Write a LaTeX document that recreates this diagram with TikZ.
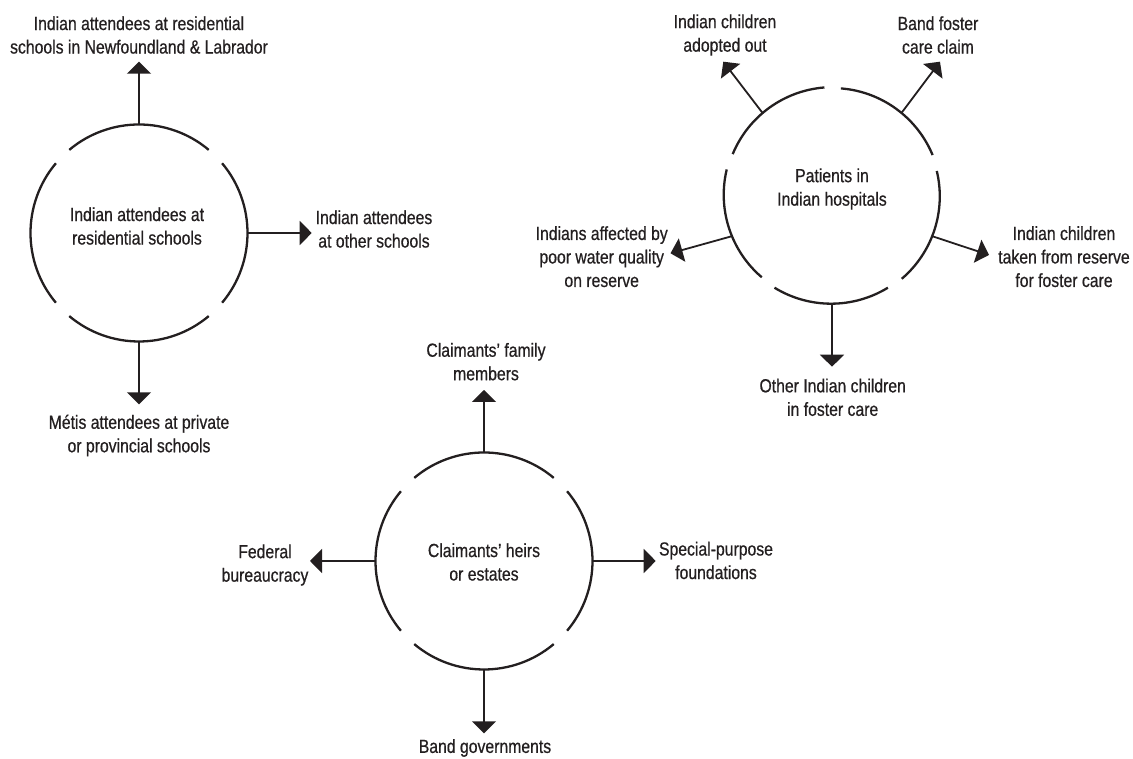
\documentclass[tikz,border=0pt]{standalone}
\usepackage{fontspec}
\setmainfont[FakeStretch=0.83,FakeBold=0.6]{Liberation Sans}
\usetikzlibrary{arrows.meta}
\definecolor{ink}{RGB}{35,31,32}
\begin{document}
\begin{tikzpicture}[x=1pt,y=1pt,
  every node/.style={text=ink,font=\fontsize{19}{23.5}\selectfont},
  hub/.style={circle,minimum size=217pt,inner sep=0pt,outer sep=0pt},
  lbl/.style={align=center,inner sep=0pt},
  ring/.style={draw=ink,line width=2.3pt},
  every edge/.style={draw=ink,line width=1.8pt,-{Triangle[width=24pt,length=12pt]}}]
\useasboundingbox (0,0) rectangle (1133,759);
\node[hub] (res) at (139,526) {};
\node[hub] (hosp) at (832,563.3) {};
\node[hub] (heirs) at (484,198) {};
\node[lbl] (resT) at (137,533) {Indian attendees at\\residential schools};
\node[lbl] (hospT) at (832,570) {Patients in\\Indian hospitals};
\node[lbl] (heirsT) at (484,197) {Claimants’ heirs\\or estates};
\node[lbl] (nfld) at (139,724) {Indian attendees at residential\\schools in Newfoundland \& Labrador};
\node[lbl] (other) at (374,530) {Indian attendees\\at other schools};
\node[lbl] (metis) at (139,323.5) {Métis attendees at private\\or provincial schools};
\node[lbl] (adopt) at (725,724) {Indian children\\adopted out};
\node[lbl] (bandfc) at (938,724) {Band foster\\care claim};
\node[lbl] (water) at (601.7,502.3) {Indians affected by\\poor water quality\\on reserve};
\node[lbl] (taken) at (1064,502.3) {Indian children\\taken from reserve\\for foster care};
\node[lbl] (otherfc) at (832.7,361.7) {Other Indian children\\in foster care};
\node[lbl] (family) at (486,397.3) {Claimants’ family\\members};
\node[lbl] (fed) at (265,194) {Federal\\bureaucracy};
\node[lbl] (spf) at (716,198.5) {Special-purpose\\foundations};
\node[lbl] (bandgov) at (485,11) {Band governments};
\coordinate (nfldTip) at (139,697.3);
\coordinate (otherTip) at (311.7,526);
\coordinate (metisTip) at (139,354.7);
\coordinate (adoptTip) at (723.3,697.3);
\coordinate (bandfcTip) at (940,697.3);
\coordinate (waterTip) at (670.5,505.7);
\coordinate (takenTip) at (989,504);
\coordinate (otherfcTip) at (832,392.3);
\coordinate (familyTip) at (484,369);
\coordinate (fedTip) at (310,198);
\coordinate (spfTip) at (655.7,198);
\coordinate (bandgovTip) at (484,25.7);
\foreach \a in {50,140,230,320}
  \draw[ring] (res.\a) arc[start angle=\a,delta angle=80,radius=108.5];
\foreach \a in {22.5,94.5,166.5,238.5,310.5}
  \draw[ring] (hosp.\a) arc[start angle=\a,delta angle=63,radius=108.5];
\foreach \a in {50,140,230,320}
  \draw[ring] (heirs.\a) arc[start angle=\a,delta angle=80,radius=108.5];
\path
  (res.90) edge (nfldTip)
  (res.0) edge (otherTip)
  (res.270) edge (metisTip)
  (hosp.130) edge (adoptTip)
  (hosp.50) edge (bandfcTip)
  (hosp.202) edge (waterTip)
  (hosp.-22) edge (takenTip)
  (hosp.270) edge (otherfcTip)
  (heirs.90) edge (familyTip)
  (heirs.180) edge (fedTip)
  (heirs.0) edge (spfTip)
  (heirs.270) edge (bandgovTip)
;
\end{tikzpicture}
\end{document}
